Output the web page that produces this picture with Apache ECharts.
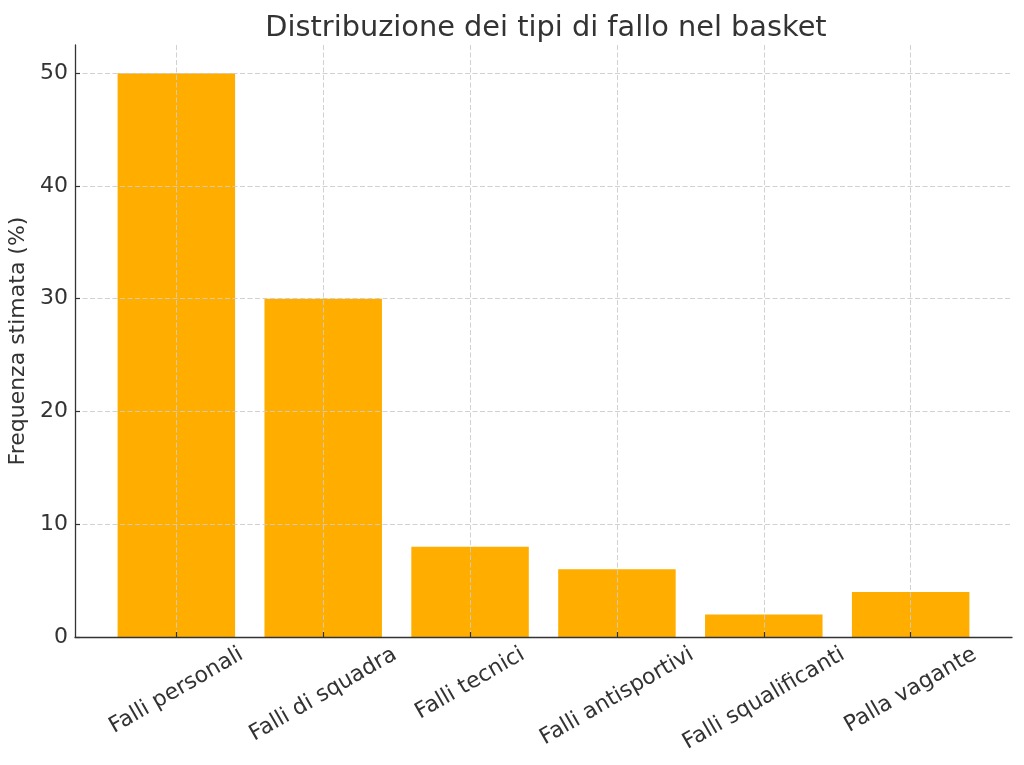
<!DOCTYPE html>
<html>
<head>
<meta charset="utf-8">
<script src="https://cdn.jsdelivr.net/npm/echarts@6/dist/echarts.min.js"></script>
<style>html,body{margin:0;padding:0;background:#fff}#c{width:1024px;height:765px}</style>
</head>
<body>
<div id="c"></div>
<script>
const categories = ['Falli personali', 'Falli di squadra', 'Falli tecnici', 'Falli antisportivi', 'Falli squalificanti', 'Palla vagante'];
const values = [50, 30, 8, 6, 2, 4];
const yTicks = [0, 10, 20, 30, 40, 50];
const xTicks = categories.map((c, i) => i);

const FONT = '"DejaVu Sans", sans-serif';
const TXT = '#333333';
const LABEL_SIZE = 22;

// center rotated labels under their tick (bbox-top aligned like the reference)
const ctx = document.createElement('canvas').getContext('2d');
ctx.font = LABEL_SIZE + 'px "DejaVu Sans"';
const rich = {};
categories.forEach((c, i) => {
  const w = ctx.measureText(c).width;
  const s = w / 4;
  rich['c' + i] = { fontSize: LABEL_SIZE, fontFamily: FONT, color: TXT, padding: [1.732 * s, s, 0, 0] };
});

const chart = echarts.init(document.getElementById('c'), null, { renderer: 'canvas' });
const gridLine = { show: true, lineStyle: { color: '#cccccc', type: [5, 2.5], width: 0.9 } };
chart.setOption({
  animation: false,
  title: {
    text: 'Distribuzione dei tipi di fallo nel basket',
    left: 541, top: 9, textAlign: 'center',
    textStyle: { fontFamily: FONT, fontSize: 28.8, fontWeight: 'normal', color: TXT }
  },
  grid: { left: 75, right: 12, top: 45, bottom: 128, containLabel: false, outerBoundsMode: 'none' },
  xAxis: {
    type: 'value', min: -0.69, max: 5.69, z: 3,
    axisLine: { show: true, onZero: false, lineStyle: { color: '#333', width: 1.3 } },
    axisTick: { show: true, inside: true, length: 5, customValues: xTicks, lineStyle: { color: '#333', width: 1.2 } },
    axisLabel: {
      customValues: xTicks, rotate: 30, align: 'center', verticalAlign: 'middle', margin: 16,
      formatter: v => { const i = Math.round(v); return '{c' + i + '|' + categories[i] + '}'; },
      rich: rich, fontFamily: FONT, fontSize: LABEL_SIZE, color: TXT
    },
    splitLine: gridLine
  },
  yAxis: {
    type: 'value', min: 0, max: 52.5, z: 3,
    name: 'Frequenza stimata (%)', nameLocation: 'middle', nameGap: 37, nameRotate: 90,
    nameTextStyle: { fontFamily: FONT, fontSize: LABEL_SIZE, color: TXT },
    axisLine: { show: true, onZero: false, lineStyle: { color: '#333', width: 1.3 } },
    axisTick: { show: true, inside: true, length: 5, customValues: yTicks, lineStyle: { color: '#333', width: 1.2 } },
    axisLabel: { customValues: yTicks, margin: 7, fontFamily: FONT, fontSize: LABEL_SIZE, color: TXT },
    splitLine: gridLine
  },
  series: [{
    type: 'bar',
    data: values.map((v, i) => [i, v]),
    barWidth: '80%',
    itemStyle: { color: '#FFAE00' },
    z: 2
  }]
});
</script>
</body>
</html>
